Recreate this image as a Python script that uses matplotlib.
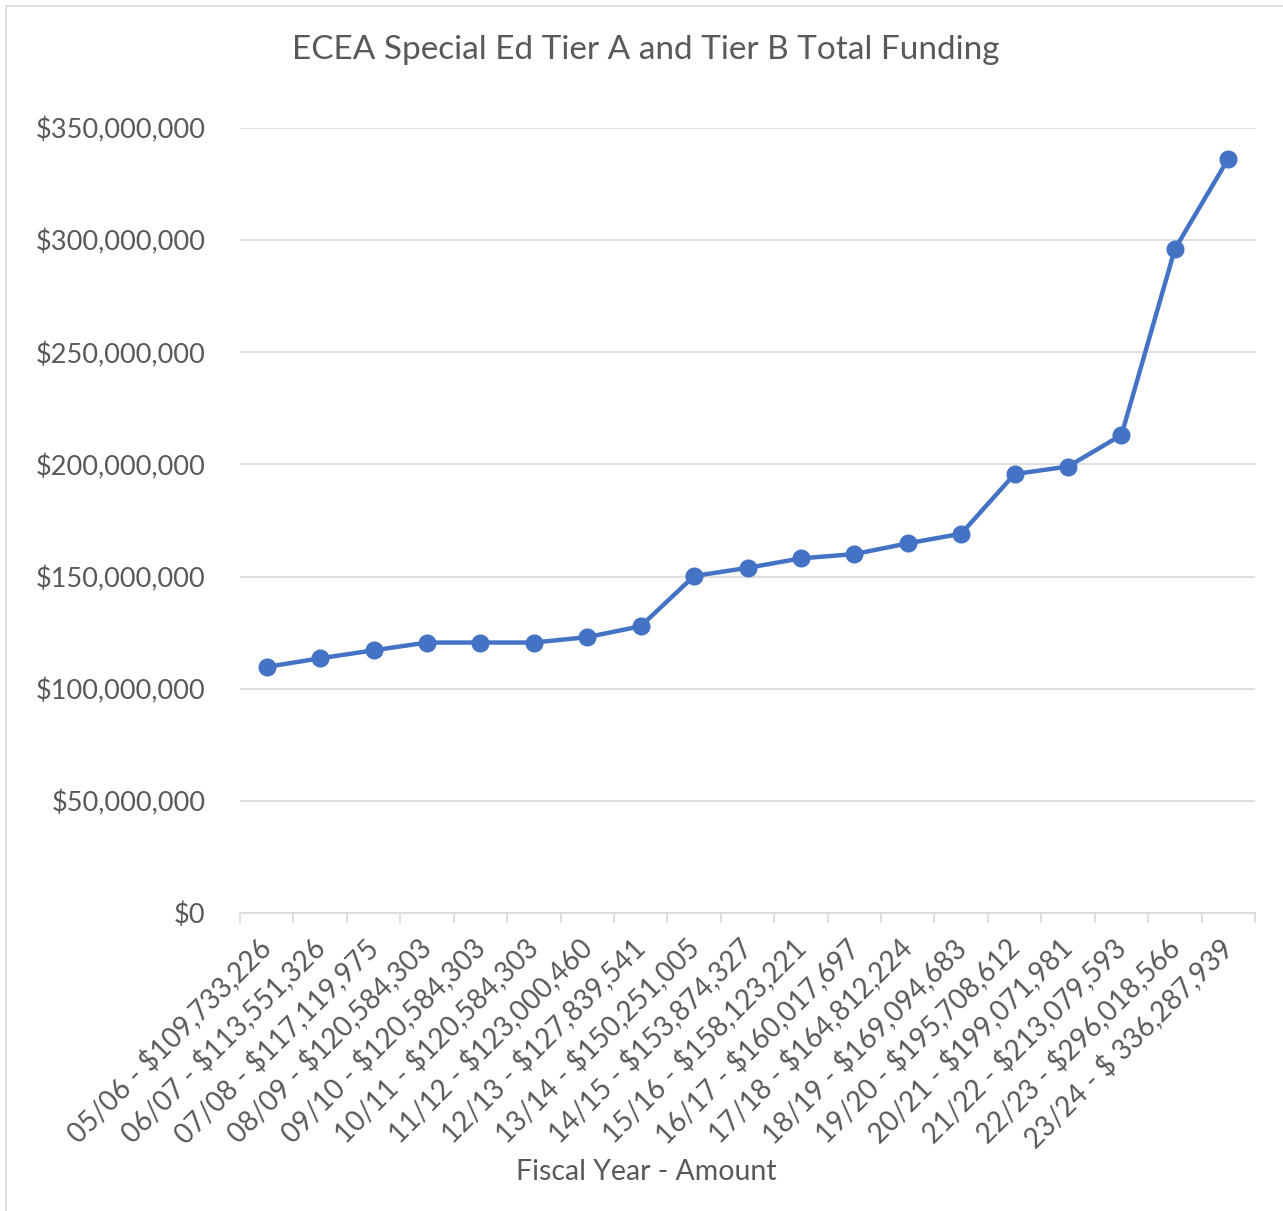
import matplotlib
matplotlib.use("Agg")
import matplotlib.pyplot as plt
from matplotlib.ticker import FuncFormatter, FixedLocator
from matplotlib.patches import Rectangle
import numpy as np

years = ["05/06", "06/07", "07/08", "08/09", "09/10", "10/11", "11/12", "12/13", "13/14",
         "14/15", "15/16", "16/17", "17/18", "18/19", "19/20", "20/21", "21/22", "22/23", "23/24"]
amounts = [109733226, 113551326, 117119975, 120584303, 120584303, 120584303, 123000460,
           127839541, 150251005, 153874327, 158123221, 160017697, 164812224, 169094683,
           195708612, 199071981, 213079593, 296018566, 336287939]
tick_labels = [f"{y} - ${a:,}" for y, a in zip(years, amounts)]
tick_labels[-1] = "23/24 - $ 336,287,939"

plt.rcParams['font.family'] = ['Lato', 'DejaVu Sans']
text_color = "#595959"

fig = plt.figure(figsize=(12.83, 12.11), dpi=100)
ax = fig.add_axes([240/1283, 1-913/1211, 1015/1283, (913-128)/1211])

x = np.arange(len(amounts))
ax.plot(x, amounts, color="#4472C4", linewidth=3.2, marker='o', markersize=12,
        markerfacecolor="#4472C4", markeredgecolor="#4472C4", zorder=3)

ax.set_xlim(-0.5, len(amounts) - 0.5)
ax.set_ylim(0, 350e6)
ax.set_yticks(np.arange(0, 350e6 + 1, 50e6))
ax.yaxis.set_major_formatter(FuncFormatter(lambda v, p: f"${int(v):,}"))
ax.grid(axis='y', color="#D9D9D9", linewidth=1.2)
ax.set_axisbelow(True)

ax.set_xticks(x)
ax.set_xticklabels(tick_labels, rotation=45, ha='right', va='center', rotation_mode='anchor',
                   fontsize=20, color=text_color)
ax.xaxis.set_minor_locator(FixedLocator(np.arange(-0.5, len(amounts), 1.0)))
ax.tick_params(axis='x', which='major', length=0, pad=22)
ax.tick_params(axis='x', which='minor', length=7, color="#D9D9D9", width=1.2)
ax.tick_params(axis='y', length=0, labelsize=19.5, labelcolor=text_color, pad=25)

for s in ['top', 'right', 'left']:
    ax.spines[s].set_visible(False)
ax.spines['bottom'].set_color("#D9D9D9")
ax.spines['bottom'].set_linewidth(1.2)

fig.text(646/1283, 1-1172/1211, "Fiscal Year - Amount",
         ha='center', va='center', fontsize=20.5, color=text_color)
fig.text(646/1283, 1-50/1211, "ECEA Special Ed Tier A and Tier B Total Funding",
         ha='center', va='center', fontsize=24, color=text_color)

fig.patches.append(Rectangle((6/1283, -0.01), 1.1, 1-6/1211+0.01, transform=fig.transFigure,
                             fill=False, edgecolor="#D9D9D9", linewidth=1.2))

fig.savefig("out.png", dpi=100, facecolor="white")
